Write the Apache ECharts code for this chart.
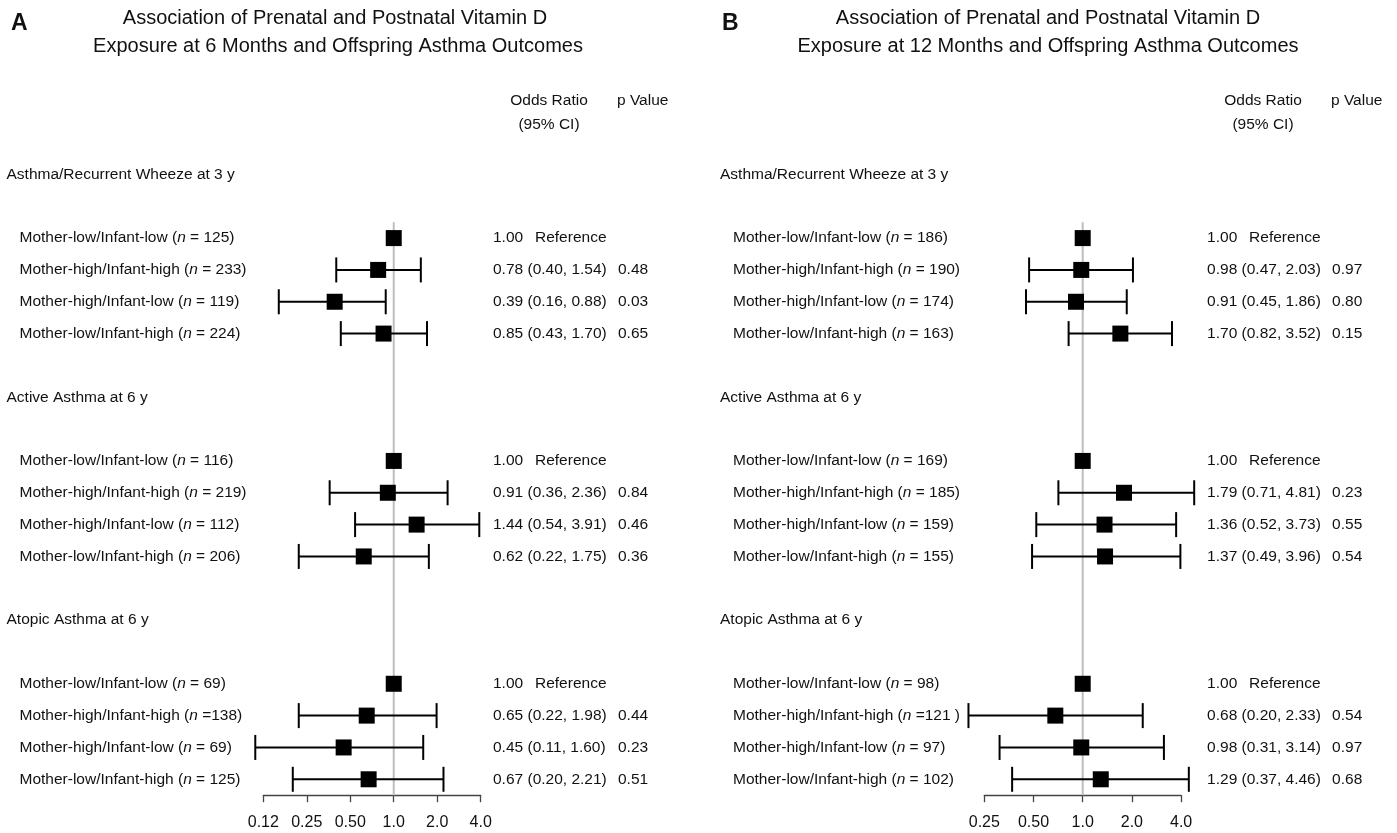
<!DOCTYPE html>
<html><head><meta charset="utf-8">
<script src="https://cdn.jsdelivr.net/npm/echarts@6/dist/echarts.min.js"></script>
<style>html,body{margin:0;padding:0;background:#fff}#c{width:1397px;height:833px}</style>
</head><body><div id="c"></div>
<script>
// ---------- data ----------
const sections = ['Asthma/Recurrent Wheeze at 3 y', 'Active Asthma at 6 y', 'Atopic Asthma at 6 y'];
const groups = ['Mother-low/Infant-low', 'Mother-high/Infant-high', 'Mother-high/Infant-low', 'Mother-low/Infant-high'];

const nA = ['= 125', '= 233', '= 119', '= 224', '= 116', '= 219', '= 112', '= 206', '= 69', '=138', '= 69', '= 125'];
const orA = [1.00, 0.78, 0.39, 0.85, 1.00, 0.91, 1.44, 0.62, 1.00, 0.65, 0.45, 0.67];
const loA = [null, 0.40, 0.16, 0.43, null, 0.36, 0.54, 0.22, null, 0.22, 0.11, 0.20];
const hiA = [null, 1.54, 0.88, 1.70, null, 2.36, 3.91, 1.75, null, 1.98, 1.60, 2.21];
const pA  = [null, '0.48', '0.03', '0.65', null, '0.84', '0.46', '0.36', null, '0.44', '0.23', '0.51'];

const nB = ['= 186', '= 190', '= 174', '= 163', '= 169', '= 185', '= 159', '= 155', '= 98', '=121 ', '= 97', '= 102'];
const orB = [1.00, 0.98, 0.91, 1.70, 1.00, 1.79, 1.36, 1.37, 1.00, 0.68, 0.98, 1.29];
const loB = [null, 0.47, 0.45, 0.82, null, 0.71, 0.52, 0.49, null, 0.20, 0.31, 0.37];
const hiB = [null, 2.03, 1.86, 3.52, null, 4.81, 3.73, 3.96, null, 2.33, 3.14, 4.46];
const pB  = [null, '0.97', '0.80', '0.15', null, '0.23', '0.55', '0.54', null, '0.54', '0.97', '0.68'];

const tickValuesA = [0.125, 0.25, 0.5, 1, 2, 4];
const tickLabelsA = ['0.12', '0.25', '0.50', '1.0', '2.0', '4.0'];
const tickValuesB = [0.25, 0.5, 1, 2, 4];
const tickLabelsB = ['0.25', '0.50', '1.0', '2.0', '4.0'];

const titleA = ['Association of Prenatal and Postnatal Vitamin D', 'Exposure at 6 Months and Offspring Asthma Outcomes'];
const titleB = ['Association of Prenatal and Postnatal Vitamin D', 'Exposure at 12 Months and Offspring Asthma Outcomes'];

// ---------- build ----------
const FONT = "'Liberation Sans', Arial, Helvetica, sans-serif";
const TXT = '#111';

function buildRows(n, or, lo, hi, p) {
  const rows = []; // 20 rows: header, blank, 4 rows, blank ...
  const pts = [];
  sections.forEach((s, si) => {
    if (si > 0) rows.push({ kind: 'blank' });
    rows.push({ kind: 'header', text: s });
    rows.push({ kind: 'blank' });
    groups.forEach((g, gi) => {
      const k = si * 4 + gi;
      const idx = rows.length;
      rows.push({ kind: 'row', group: g, n: n[k], or: or[k], lo: lo[k], hi: hi[k], p: p[k] });
      pts.push([or[k], idx, lo[k], hi[k]]);
    });
  });
  return { rows, pts };
}
const PA = buildRows(nA, orA, loA, hiA, pA);
const PB = buildRows(nB, orB, loB, hiB, pB);

function leftLabel(P, i) {
  const r = P.rows[i];
  if (!r || r.kind === 'blank') return '';
  if (r.kind === 'header') return '{h|' + r.text + '}';
  return '{ind| }{t|' + r.group + ' (}{i|n}{t| ' + r.n + ')}';
}
function rightLabel(P, i) {
  const r = P.rows[i];
  if (!r || r.kind !== 'row') return '';
  if (r.lo == null) return '{v|' + r.or.toFixed(2) + '}{t|Reference}';
  return '{e|' + r.or.toFixed(2) + ' (' + r.lo.toFixed(2) + ', ' + r.hi.toFixed(2) + ')}{t|' + r.p + '}';
}
const richBase = { fontFamily: FONT, fontSize: 15.5, color: TXT };
const leftRich = {
  h: Object.assign({}, richBase),
  t: Object.assign({}, richBase),
  i: Object.assign({}, richBase, { fontStyle: 'italic' }),
  ind: Object.assign({}, richBase, { width: 13 })
};
const rightRich = {
  e: Object.assign({}, richBase, { width: 125 }),
  v: Object.assign({}, richBase, { width: 42 }),
  t: Object.assign({}, richBase)
};

function forestItem(params, api) {
  const or = api.value(0), row = api.value(1), lo = api.value(2), hi = api.value(3);
  const c = api.coord([or, row]);
  const ch = [];
  if (lo != null && !isNaN(lo) && lo > 0) {
    const l = api.coord([lo, row]), h = api.coord([hi, row]);
    const st = { stroke: '#000', lineWidth: 2 };
    ch.push({ type: 'line', shape: { x1: l[0], y1: c[1], x2: h[0], y2: c[1] }, style: st });
    ch.push({ type: 'line', shape: { x1: l[0], y1: c[1] - 12.5, x2: l[0], y2: c[1] + 12.5 }, style: st });
    ch.push({ type: 'line', shape: { x1: h[0], y1: c[1] - 12.5, x2: h[0], y2: c[1] + 12.5 }, style: st });
  }
  ch.push({ type: 'rect', shape: { x: c[0] - 8, y: c[1] - 8, width: 16, height: 16 }, style: { fill: '#000' } });
  return { type: 'group', children: ch };
}
function refItem(params, api) {
  const c = api.coord([api.value(0), api.value(1)]);
  const band = api.size([0, 1])[1];
  const cs = params.coordSys;
  return { type: 'line', shape: { x1: c[0], y1: c[1] - band / 2, x2: c[0], y2: cs.y + cs.height },
    style: { stroke: '#bdbdbd', lineWidth: 2 } };
}

function xAxisFor(gi, tv, tl) {
  return {
    gridIndex: gi, type: 'log', logBase: 2, min: tv[0], max: tv[tv.length - 1], interval: 1,
    axisLine: { show: true, lineStyle: { color: '#444', width: 1.3 } },
    axisTick: { show: true, length: 7, lineStyle: { color: '#444', width: 1.3 } },
    minorTick: { show: false }, splitLine: { show: false },
    axisLabel: {
      margin: 19, fontFamily: FONT, fontSize: 16, color: TXT, showMinLabel: true, showMaxLabel: true,
      formatter: v => {
        let best = 0;
        tv.forEach((t, k) => { if (Math.abs(Math.log2(t) - Math.log2(v)) < Math.abs(Math.log2(tv[best]) - Math.log2(v))) best = k; });
        return tl[best];
      }
    }
  };
}
function yAxesFor(gi, P, leftMargin, rightMargin) {
  const keys = P.rows.map((r, i) => 'r' + i);
  const common = { gridIndex: gi, type: 'category', inverse: true, data: keys,
    axisLine: { show: false }, axisTick: { show: false }, splitLine: { show: false } };
  return [
    Object.assign({}, common, { position: 'left',
      axisLabel: { interval: 0, align: 'left', margin: leftMargin, rich: leftRich, fontFamily: FONT, fontSize: 15.5, color: TXT,
        formatter: (v, i) => leftLabel(P, i) } }),
    Object.assign({}, common, { position: 'right',
      axisLabel: { interval: 0, align: 'left', margin: rightMargin, rich: rightRich, fontFamily: FONT, fontSize: 15.5, color: TXT,
        formatter: (v, i) => rightLabel(P, i) } })
  ];
}

const GA = { left: 263.3, top: 158.5, width: 217.4, height: 636.7 };
const GB = { left: 984.3, top: 158.5, width: 196.8, height: 636.7 };

function txt(x, y, text, size, align, weight) {
  return { type: 'text', x: x, y: y, style: { text: text, fontFamily: FONT, fontSize: size, fontWeight: weight || 'normal',
    fill: TXT, align: align, verticalAlign: 'middle' } };
}

const option = {
  backgroundColor: '#fff',
  animation: false,
  grid: [
    Object.assign({ containLabel: false, outerBoundsMode: 'none' }, GA),
    Object.assign({ containLabel: false, outerBoundsMode: 'none' }, GB)
  ],
  xAxis: [xAxisFor(0, tickValuesA, tickLabelsA), xAxisFor(1, tickValuesB, tickLabelsB)],
  yAxis: [].concat(yAxesFor(0, PA, 263.3 - 6.5, 12.3), yAxesFor(1, PB, 984.3 - 720, 26)),
  series: [
    { type: 'custom', xAxisIndex: 0, yAxisIndex: 0, clip: false, z: 1, renderItem: refItem, data: [[1, 2]], silent: true },
    { type: 'custom', xAxisIndex: 0, yAxisIndex: 0, clip: false, z: 2, renderItem: forestItem, data: PA.pts,
      encode: { x: 0, y: 1 }, silent: true },
    { type: 'custom', xAxisIndex: 1, yAxisIndex: 2, clip: false, z: 1, renderItem: refItem, data: [[1, 2]], silent: true },
    { type: 'custom', xAxisIndex: 1, yAxisIndex: 2, clip: false, z: 2, renderItem: forestItem, data: PB.pts,
      encode: { x: 0, y: 1 }, silent: true }
  ],
  graphic: [
    txt(11, 24, 'A', 23, 'left', 'bold'),
    txt(335, 18, titleA[0], 20, 'center'),
    txt(338, 46, titleA[1], 20, 'center'),
    txt(549, 101, 'Odds Ratio', 15.5, 'center'),
    txt(549, 125, '(95% CI)', 15.5, 'center'),
    txt(617, 101, 'p Value', 15.5, 'left'),
    txt(722, 24, 'B', 23, 'left', 'bold'),
    txt(1048, 18, titleB[0], 20, 'center'),
    txt(1048, 46, titleB[1], 20, 'center'),
    txt(1263, 101, 'Odds Ratio', 15.5, 'center'),
    txt(1263, 125, '(95% CI)', 15.5, 'center'),
    txt(1331, 101, 'p Value', 15.5, 'left')
  ]
};
const chart = echarts.init(document.getElementById('c'), null, { renderer: 'canvas' });
chart.setOption(option);
</script>
</body></html>
